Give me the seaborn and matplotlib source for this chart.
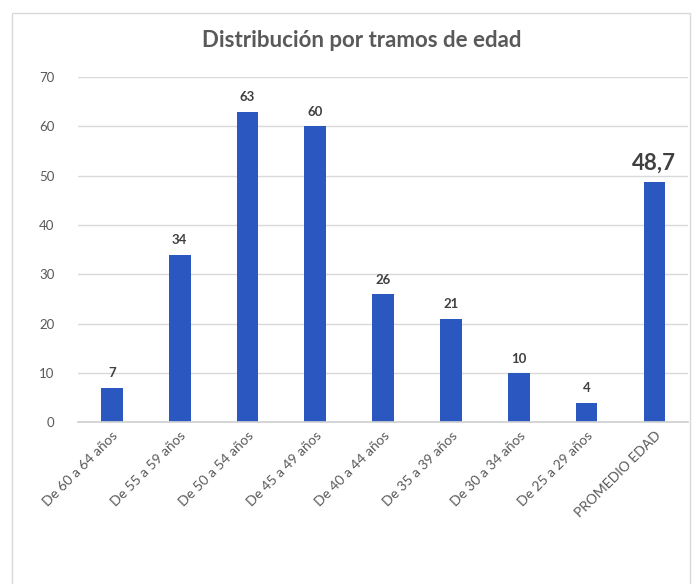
import numpy as np
import pandas as pd
import seaborn as sns
import matplotlib.pyplot as plt
from matplotlib.patches import Rectangle

categories = ["De 60 a 64 años", "De 55 a 59 años", "De 50 a 54 años", "De 45 a 49 años",
              "De 40 a 44 años", "De 35 a 39 años", "De 30 a 34 años", "De 25 a 29 años",
              "PROMEDIO EDAD"]
values = [7, 34, 63, 60, 26, 21, 10, 4, 48.7]
value_labels = ["7", "34", "63", "60", "26", "21", "10", "4", "48,7"]

sns.set_theme(style="white")
plt.rcParams['font.family'] = ['Lato', 'DejaVu Sans']

df = pd.DataFrame({"tramo": categories, "valor": values})

fig = plt.figure(figsize=(6.96, 5.84), dpi=100)
ax = fig.add_axes([0.112, 0.277, 0.877, 0.591])

sns.barplot(data=df, x="tramo", y="valor", color="#2B57C0", saturation=1,
            width=0.32, linewidth=0, ax=ax)

ax.set_ylim(0, 70)
ax.set_yticks(np.arange(0, 71, 10))
ax.yaxis.grid(True, color="#D9D9D9", linewidth=1)
ax.set_axisbelow(True)
for s in ["top", "right", "left"]:
    ax.spines[s].set_visible(False)
ax.spines["bottom"].set_color("#D0D0D0")
ax.set_xlabel("")
ax.set_ylabel("")
ax.tick_params(axis="y", colors="#595959", labelsize=9.5, length=0, pad=17)
ax.tick_params(axis="x", colors="#595959", labelsize=10, length=0, pad=5)
plt.setp(ax.get_xticklabels(), rotation=45, ha="right", rotation_mode="anchor")

texts = ax.bar_label(ax.containers[0], labels=value_labels, padding=6,
                     fontsize=9.5, fontweight="bold", color="#404040")
texts[-1].set_fontsize(16)

fig.suptitle("Distribución por tramos de edad", x=0.52, y=0.948, fontsize=16,
             fontweight="bold", color="#595959")

# chart frame
fig.patches.append(Rectangle((12 / 696, -0.1), 678 / 696, 1.1 - 13 / 584,
                             transform=fig.transFigure, fill=False,
                             edgecolor="#D9D9D9", linewidth=1))

fig.savefig("out.png", dpi=100)
